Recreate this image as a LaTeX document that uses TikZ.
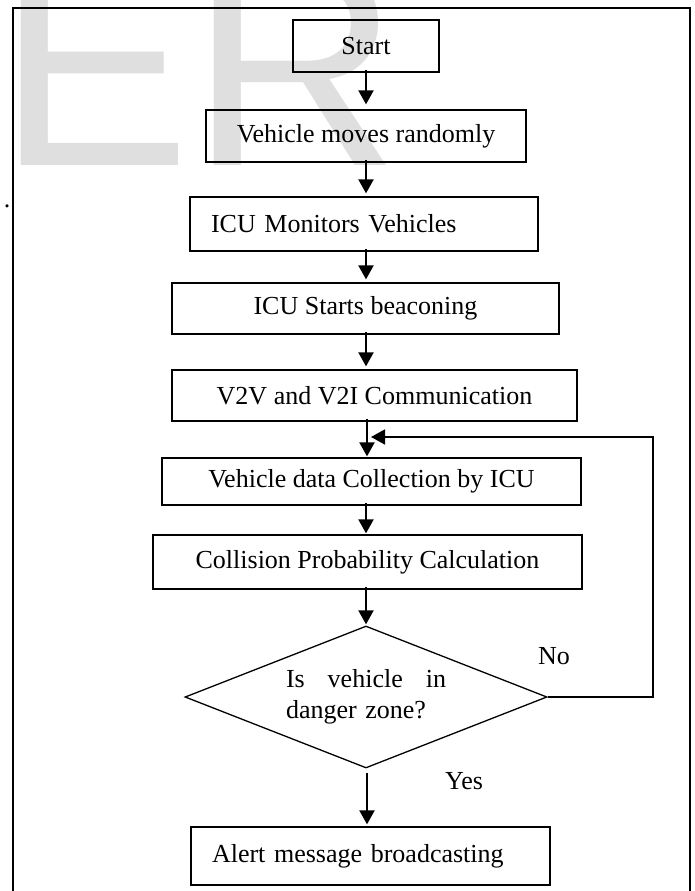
\documentclass[tikz,border=0pt]{standalone}
\usepackage{fontspec}
\setmainfont{Liberation Serif}
\newfontfamily\wmfont{Liberation Sans}
\usetikzlibrary{shapes.geometric,arrows.meta}
\begin{document}
\begin{tikzpicture}[x=1pt,y=-1pt,
  txt/.style={font=\fontsize{26}{31}\selectfont},
  box/.style={txt,draw,line width=1.3pt,inner sep=0pt,align=center},
  lbox/.style={box,align=left,inner xsep=21pt,text width=#1},
  tip/.style={-{Triangle[length=14pt,width=15pt]}},
  arr/.style={line width=2.2pt,tip},
  lbl/.style={txt,inner sep=0pt}]
\useasboundingbox (0,0) rectangle (695,891);
\clip (0,0) rectangle (695,891);
% watermark
\node[anchor=base west,inner sep=0pt,text=gray!25,font=\wmfont\fontsize{290}{290}\selectfont] (wm) at (-3,165) {ER};
% frame
\draw[line width=2pt] (13,900) -- (13,8) -- (690,8) -- (690,900);
\node[lbl,anchor=base] (dot) at (7,207) {.};
% boxes
\node[box,minimum width=146pt,minimum height=52pt] (start) at (366,46) {Start};
\node[box,minimum width=320pt,minimum height=52pt] (move) at (366,136) {Vehicle moves randomly};
\node[lbox=306pt,minimum width=348pt,minimum height=54pt] (monitor) at (364,224) {ICU Monitors Vehicles};
\node[box,minimum width=387pt,minimum height=51pt] (beacon) at (365.5,308.5) {ICU Starts beaconing};
\node[box,minimum width=405pt,minimum height=51pt] (v2v) at (374.5,395.5) {V2V and V2I Communication};
\node[box,minimum width=419pt,minimum height=47pt] (collect) at (371.5,481.5) {Vehicle data Collection by ICU};
\node[box,minimum width=429pt,minimum height=54pt] (calc) at (367.5,562) {Collision Probability Calculation};
\node[txt,draw,line width=1.3pt,diamond,aspect=2.55,inner sep=0pt,minimum width=362pt,minimum height=142pt,text width=160pt,align=left] (dec) at (366,697) {Is\hfill vehicle\hfill in\\danger zone?};
\node[lbox=317pt,minimum width=359pt,minimum height=58pt] (alert) at (370.5,856) {Alert message broadcasting};
% labels
\node[lbl] (no) at (554,656) {No};
\node[lbl] (yes) at (464,781) {Yes};
% connectors
\coordinate (sp) at (366,0);
\coordinate (sp2) at (367,0);
\draw[arr,shorten >=5pt,shorten <=-3pt] (start.south -| sp) -- (move.north -| sp);
\draw[arr,shorten >=3pt,shorten <=-3pt] (move.south -| sp) -- (monitor.north -| sp);
\draw[arr,shorten >=3pt,shorten <=-3pt] (monitor.south -| sp) -- (beacon.north -| sp);
\draw[arr,shorten >=3pt,shorten <=-3pt] (beacon.south -| sp) -- (v2v.north -| sp);
\draw[arr,shorten >=1pt,shorten <=-3pt] (v2v.south -| sp2) -- (collect.north -| sp2);
\draw[arr,shorten >=1pt,shorten <=-3pt] (collect.south -| sp) -- (calc.north -| sp);
\draw[arr,shorten >=1pt,shorten <=-3pt] (calc.south -| sp) -- (dec.north);
\draw[arr,shorten >=2pt,shorten <=4pt] (dec.south -| sp2) -- (alert.north -| sp2);
\coordinate (lc) at (653,437);
\coordinate (loopin) at (371,437);
\draw[line width=1.7pt,tip] (dec.east) -| (lc) -- (loopin);
\end{tikzpicture}
\end{document}
